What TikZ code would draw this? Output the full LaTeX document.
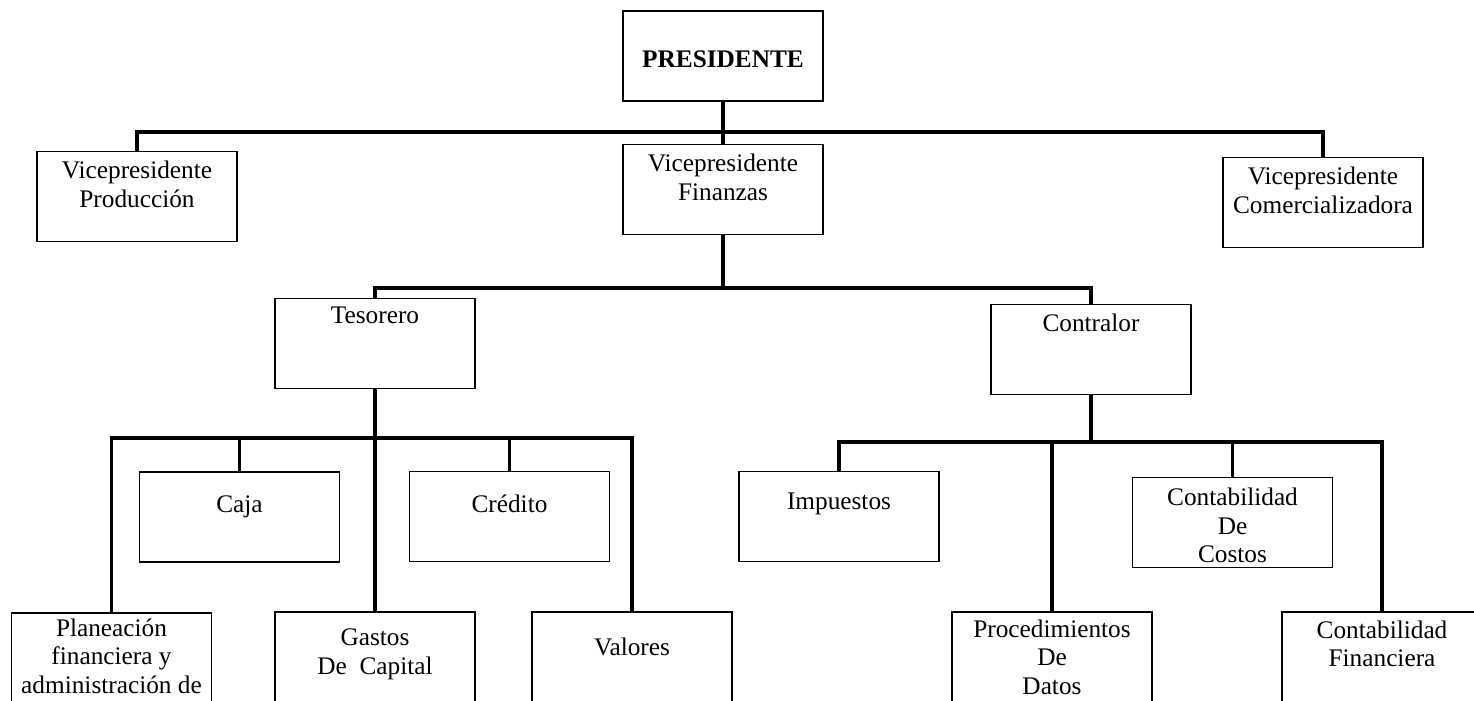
\documentclass[tikz,border=0pt]{standalone}
\usepackage{fontspec}
\setmainfont{Liberation Serif}

\tikzset{
  box/.style={draw, line width=0.8pt, minimum width=4cm, minimum height=1.8cm, inner sep=0pt},
  txt/.style={anchor=north, inner sep=0pt, align=center, yshift=-#1*0.02cm},
  link/.style={line width=2.2pt}
}

\begin{document}
\begin{tikzpicture}[x=0.02cm, y=-0.02cm, font=\fontsize{14.4}{16.3}\selectfont]
\useasboundingbox (0,0) rectangle (1474,700);
\clip (0,0) rectangle (1474,700);

% one unit = one pixel of the scan
\node[box, label={[txt=40]north:\textbf{PRESIDENTE}}] (pres) at (723,56) {};
\node[box, label={[txt=10]north:Vicepresidente\\Producción}] (vprod) at (137,196.5) {};
\node[box, label={[txt=10]north:Vicepresidente\\Finanzas}] (vfin) at (723,189.5) {};
\node[box, label={[txt=10]north:Vicepresidente\\Comercializadora}] (vcom) at (1323,202.5) {};

\node[box, label={[txt=9]north:Tesorero}] (tes) at (375,343.5) {};
\node[box, label={[txt=10]north:Contralor}] (contr) at (1091,349.5) {};

\node[box, label={[txt=24]north:Caja}] (caja) at (239.5,517) {};
\node[box, label={[txt=24]north:Crédito}] (cred) at (509.5,516.5) {};
\node[box, label={[txt=6]north:Planeación\\financiera y\\administración de}] (plan) at (111.5,658) {};
\node[box, label={[txt=17]north:Gastos\\De~~Capital}] (gast) at (375,657) {};
\node[box, label={[txt=26]north:Valores}] (val) at (632,657) {};

\node[box, label={[txt=22]north:Impuestos}] (imp) at (839,516.5) {};
\node[box, label={[txt=11]north:Contabilidad\\De\\Costos}] (cost) at (1232.5,522.5) {};
\node[box, label={[txt=8]north:Procedimientos\\De\\Datos}] (proc) at (1052,657) {};
\node[box, label={[txt=9]north:Contabilidad\\Financiera}] (cfin) at (1382,657) {};

% bus lines
\coordinate (b1) at (723,132);
\coordinate (b2) at (723,288);
\coordinate (b3) at (375,438);
\coordinate (b4) at (1091,442);

\draw[link] (pres) -- (vfin);
\draw[link] (vprod.north) |- (b1) -| (vcom.north);

\draw[link] (vfin) -- (b2);
\draw[link] (tes.north) |- (b2) -| (contr.north);

\draw[link] (tes) -- (gast);
\draw[link] (plan.north) |- (b3) -| (val.north);
\draw[link] (caja.north) -- (caja.north |- b3);
\draw[link] (cred.north) -- (cred.north |- b3);

\draw[link] (contr) -- (b4);
\draw[link] (imp.north) |- (b4) -| (cfin.north);
\draw[link] (proc.north) -- (proc.north |- b4);
\draw[link] (cost.north) -- (cost.north |- b4);

\end{tikzpicture}
\end{document}
